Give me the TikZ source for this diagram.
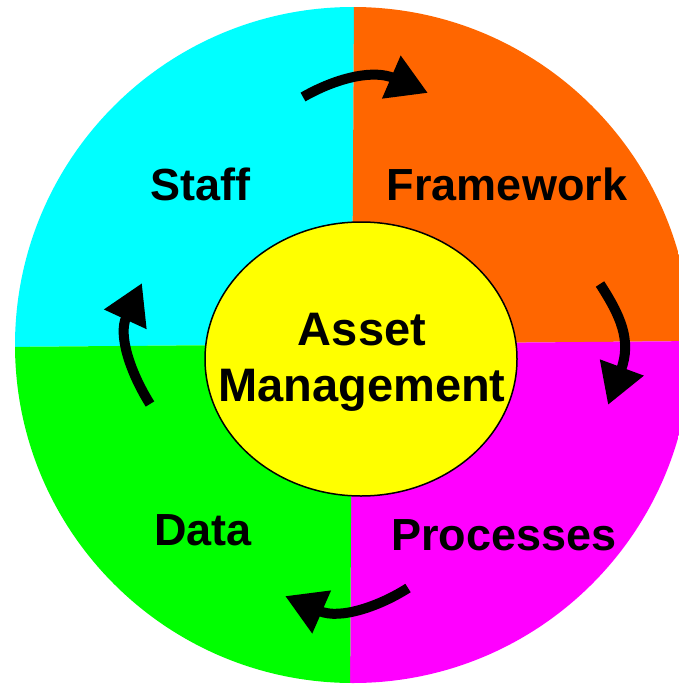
\documentclass[tikz,border=0pt]{standalone}
\usepackage{fontspec}
\setmainfont{Liberation Sans}
\usetikzlibrary{arrows.meta,shapes.geometric}
\definecolor{amcyan}{RGB}{0,255,255}
\definecolor{amorange}{RGB}{255,102,0}
\definecolor{ammagenta}{RGB}{255,0,255}
\definecolor{amgreen}{RGB}{0,255,0}
\definecolor{amyellow}{RGB}{255,255,0}
\tikzset{%
	part/.style       = {anchor=base, font=\fontsize{45}{54}\selectfont\bfseries}, % Quarter label
	hub/.style        = {draw, ellipse, line width=1.5pt, fill=amyellow, inner sep=0pt,
	                     minimum width=312pt, minimum height=274pt}, % Centre
	hubtext/.style    = {align=center, inner sep=0pt, font=\fontsize{47}{56}\selectfont\bfseries}, % Centre text
	cyclearrow/.style = {line width=10pt, -{Triangle[length=40pt,width=44pt]}}, % Curved arrow
}

\begin{document}
\begin{tikzpicture}[x=1pt,y=-1pt]
	\useasboundingbox (0,0) rectangle (679,685);
	\coordinate (c) at (352,344);
	% quarters of the wheel
	\begin{scope}
		\clip (353,345) circle (338);
		\fill[amcyan] (0,0) -- (354,0) -- (c) -- (0,347) -- cycle;
		\fill[amorange] (354,0) -- (700,0) -- (700,341) -- (c) -- cycle;
		\fill[ammagenta] (c) -- (700,341) -- (700,700) -- (350,700) -- cycle;
		\fill[amgreen] (0,347) -- (c) -- (350,700) -- (0,700) -- cycle;
	\end{scope}
	\node[hub] (am) at (361,359) {};
	\node[hubtext] (amtext) at (362,362) {Asset\\Management};
	\node[part] (staff) at (200,200) {Staff};
	\node[part] (framework) at (507,200) {Framework};
	\node[part] (processes) at (504,550) {Processes};
	\node[part] (data) at (203,545) {Data};
	% arrows round the wheel
	\coordinate (staffout) at (303,97);
	\coordinate (frameworkin) at (428,93);
	\coordinate (frameworkout) at (600,284);
	\coordinate (processesin) at (608,405);
	\coordinate (processesout) at (408,588);
	\coordinate (datain) at (285,596);
	\coordinate (dataout) at (150,404);
	\coordinate (staffin) at (142,283);
	\draw[cyclearrow] (staffout) .. controls (340,76) and (375,70) .. (frameworkin);
	\draw[cyclearrow] (frameworkout) .. controls (620,315) and (632,340) .. (processesin);
	\draw[cyclearrow] (processesout) .. controls (380,606) and (340,620) .. (datain);
	\draw[cyclearrow] (dataout) .. controls (130,372) and (118,335) .. (staffin);
\end{tikzpicture}
\end{document}
